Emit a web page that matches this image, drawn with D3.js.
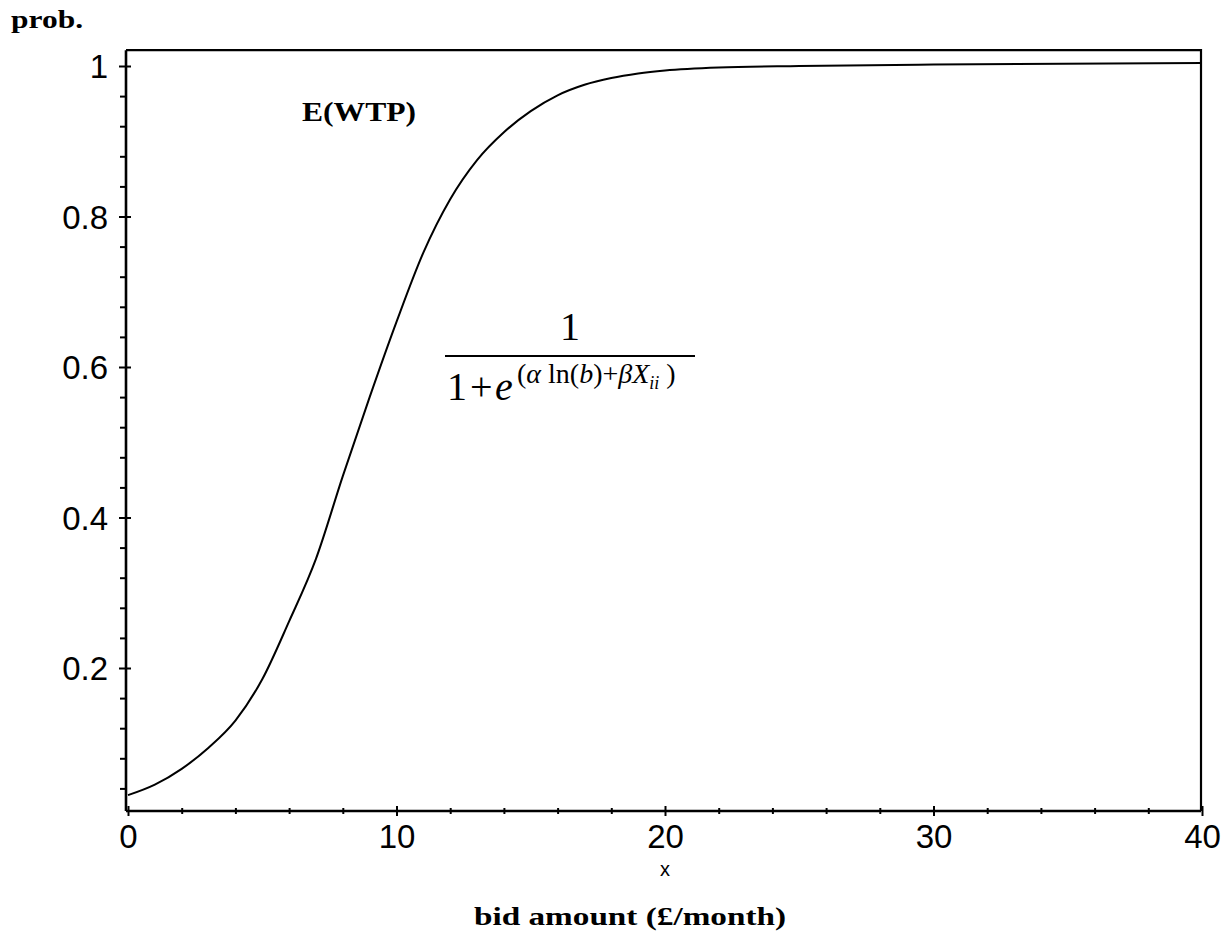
<!DOCTYPE html>
<html>
<head>
<meta charset="utf-8">
<script src="https://cdn.jsdelivr.net/npm/d3@7"></script>
<style>
  body { margin: 0; background: #fff; }
  svg { display: block; }
  .tick text { font-family: "Liberation Sans", Arial, sans-serif; font-size: 33px; fill: #000; }
  .lbl { font-family: "Liberation Serif", "Times New Roman", serif; font-weight: bold; fill: #000; }
  .fml { font-family: "Liberation Serif", "Times New Roman", serif; fill: #000; }
</style>
</head>
<body>
<svg id="drawing" width="1231" height="934"></svg>
<script>
(function () {
    // values
    const bidAmount = [0, 1, 2, 3, 4, 5, 6, 7, 8, 9, 10, 11, 12, 13, 14, 15, 16, 17, 18, 19, 20, 22, 25, 30, 40]
    const probValues = [0.031, 0.045, 0.066, 0.094, 0.130, 0.185, 0.262, 0.345, 0.455, 0.560, 0.660, 0.752, 0.823, 0.875, 0.912,
        0.940, 0.961, 0.975, 0.984, 0.990, 0.994, 0.998, 1.000, 1.002, 1.004]
    const xTicks = [0, 10, 20, 30, 40]
    const xTickLabels = ["0", "10", "20", "30", "40"]
    const yTicks = [0.2, 0.4, 0.6, 0.8, 1]
    const yTickLabels = ["0.2", "0.4", "0.6", "0.8", "1"]
    const yView = [0.01, 1.021]

    const data = bidAmount.map((b, i) => ({ b: b, p: probValues[i] }))

    const svg = d3.select('#drawing')

    x = d3.scaleLinear()
        .domain([0, 40])
        .range([128, 1202])

    y = d3.scaleLinear()
        .domain([0, 1])
        .range([818.5, 66])

    const left = 126
    const bottom = y(yView[0])
    const top = y(yView[1])
    const right = 1201

    // frame
    svg.append("path")
        .attr("d", `M${left},${top}H${right}V${bottom}`)
        .attr("fill", "none")
        .attr("stroke", "#000")
        .attr("stroke-width", 2.2)

    // y axis
    svg.append("g")
        .attr("transform", `translate(${left},0)`)
        .call(d3.axisLeft(y).tickSize(7).tickPadding(11)
            .tickValues(yTicks)
            .tickFormat((d, i) => yTickLabels[i]))
        .call(g => g.select(".domain").remove())
        .call(g => g.selectAll(".tick line").attr("x1", 5).attr("stroke", "#000").attr("stroke-width", 2))
        .call(g => g.selectAll(".tick text").attr("dy", "0.36em"))

    svg.append("g")
        .attr("transform", `translate(${left},0)`)
        .call(d3.axisLeft(y).tickSize(6)
            .tickValues(d3.range(0.04, 1.0, 0.04).filter(v => Math.abs(v * 5 - Math.round(v * 5)) > 1e-6))
            .tickFormat(""))
        .call(g => g.select(".domain").remove())
        .call(g => g.selectAll(".tick line").attr("stroke", "#000").attr("stroke-width", 2))

    // x axis
    svg.append("g")
        .attr("transform", `translate(0,${bottom})`)
        .call(d3.axisBottom(x).tickSize(5).tickPadding(9)
            .tickValues(xTicks)
            .tickFormat((d, i) => xTickLabels[i]))
        .call(g => g.select(".domain").remove())
        .call(g => g.selectAll(".tick line").attr("y1", -5).attr("stroke", "#000").attr("stroke-width", 2))

    svg.append("g")
        .attr("transform", `translate(0,${bottom})`)
        .call(d3.axisBottom(x).tickSize(3)
            .tickValues(d3.range(2, 40, 2).filter(v => v % 10 !== 0))
            .tickFormat(""))
        .call(g => g.select(".domain").remove())
        .call(g => g.selectAll(".tick line").attr("y1", -3).attr("stroke", "#000").attr("stroke-width", 2))

    svg.append("line")
        .attr("x1", left).attr("x2", left)
        .attr("y1", top).attr("y2", bottom)
        .attr("stroke", "#000").attr("stroke-width", 2.6)

    svg.append("line")
        .attr("x1", left).attr("x2", right)
        .attr("y1", bottom).attr("y2", bottom)
        .attr("stroke", "#000").attr("stroke-width", 2.6)

    // the curve
    line = d3.line()
        .x(d => x(d.b))
        .y(d => y(d.p))
        .curve(d3.curveMonotoneX)

    svg.append("path")
        .datum(data)
        .attr("d", line)
        .attr("fill", "none")
        .attr("stroke", "#000")
        .attr("stroke-width", 2)

    // labels
    svg.append("text")
        .attr("class", "lbl")
        .attr("x", 11).attr("y", 28)
        .attr("font-size", 25)
        .attr("textLength", 72).attr("lengthAdjust", "spacingAndGlyphs")
        .text("prob.")

    svg.append("text")
        .attr("class", "lbl")
        .attr("x", 302).attr("y", 121)
        .attr("font-size", 28)
        .attr("textLength", 114).attr("lengthAdjust", "spacingAndGlyphs")
        .text("E(WTP)")

    svg.append("text")
        .attr("class", "lbl")
        .attr("x", 474).attr("y", 925)
        .attr("font-size", 26)
        .attr("textLength", 312).attr("lengthAdjust", "spacingAndGlyphs")
        .text("bid amount (£/month)")

    svg.append("text")
        .attr("x", x(20)).attr("y", 876)
        .attr("text-anchor", "middle")
        .attr("font-family", "Liberation Sans, Arial, sans-serif")
        .attr("font-size", 20)
        .text("x")

    // formula
    const f = svg.append("g").attr("class", "fml")
    f.append("text")
        .attr("x", 570).attr("y", 340)
        .attr("text-anchor", "middle")
        .attr("font-size", 40)
        .text("1")
    f.append("line")
        .attr("x1", 445).attr("x2", 695)
        .attr("y1", 356).attr("y2", 356)
        .attr("stroke", "#000").attr("stroke-width", 2)
    const den = f.append("text")
        .attr("y", 400)
        .attr("font-size", 40)
    den.append("tspan").attr("x", 447).text("1")
    den.append("tspan").attr("x", 470).text("+")
    den.append("tspan").attr("x", 495).attr("font-style", "italic").text("e")
    den.append("tspan").attr("x", 517).attr("font-size", 28).attr("dy", -17).text("(")
    den.append("tspan").attr("font-size", 28).attr("font-style", "italic").text("α")
    den.append("tspan").attr("font-size", 28).text(" ln(")
    den.append("tspan").attr("font-size", 28).attr("font-style", "italic").text("b")
    den.append("tspan").attr("font-size", 28).text(")+")
    den.append("tspan").attr("font-size", 28).attr("font-style", "italic").text("βX")
    den.append("tspan").attr("font-size", 18).attr("font-style", "italic").attr("dy", 6).text("ii")
    den.append("tspan").attr("font-size", 28).attr("dy", -6).text(" )")

}).call(this);
</script>
</body>
</html>
